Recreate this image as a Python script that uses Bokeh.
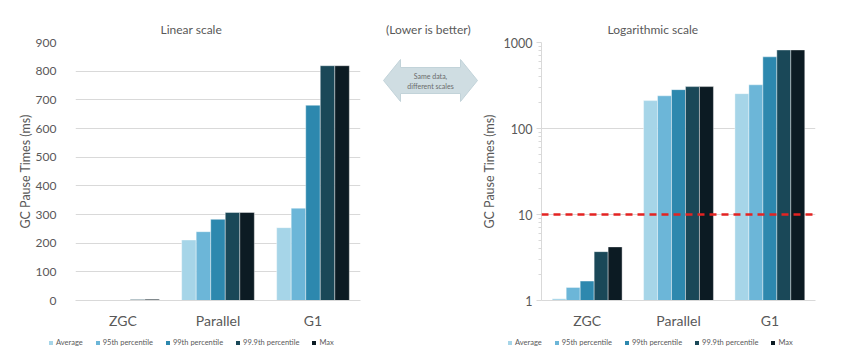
from bokeh.plotting import figure
from bokeh.layouts import row, column
from bokeh.models import (ColumnDataSource, FactorRange, Range1d, Legend, LegendItem,
                          Span, FixedTicker, PrintfTickFormatter, Label)
from bokeh.transform import dodge
from bokeh.embed import file_html
from bokeh.resources import INLINE

collectors = ["ZGC", "Parallel", "G1"]
series = ["Average", "95th percentile", "99th percentile", "99.9th percentile", "Max"]
average = [1.05, 211, 254]
p95 = [1.42, 240, 322]
p99 = [1.68, 283, 681]
p999 = [3.7, 307, 819]
pmax = [4.2, 307, 819]
colors = ["#a6d5e8", "#6cb6d8", "#2d88ae", "#1a4858", "#0c1b23"]
linear_ticks = [0, 100, 200, 300, 400, 500, 600, 700, 800, 900]
log_ticks = [1, 10, 100, 1000]
log_minor = [2, 3, 4, 5, 6, 7, 8, 9, 20, 30, 40, 50, 60, 70, 80, 90,
             200, 300, 400, 500, 600, 700, 800, 900]
threshold = 10

FONT = "Lato"
TXT = "#595959"
GRID = "#d9d9d9"

cols = ["average", "p95", "p99", "p999", "pmax"]
src = ColumnDataSource(dict(x=collectors, average=average, p95=p95, p99=p99,
                            p999=p999, pmax=pmax, base_lin=[0, 0, 0], base_log=[1, 1, 1]))

BW = 0.153
offsets = [-2 * BW, -BW, 0, BW, 2 * BW]
H = 331
LH = 18
TOP = 42
BOT = 302


def no_align(p):
    if "frame_align" in p.properties():
        p.frame_align = False


def style_title(t, standoff, size="12px"):
    t.standoff = standoff
    t.vertical_align = "middle"
    t.text_font = FONT
    t.text_font_size = size
    t.text_font_style = "normal"
    t.text_color = TXT


def make_chart(log, width, bl, br, title, title_off, title_standoff, lab_standoff):
    kw = dict(y_axis_type="log", y_range=Range1d(1, 1000)) if log else dict(y_range=Range1d(0, 900))
    p = figure(x_range=FactorRange(*collectors), width=width, height=H,
               output_backend="svg", toolbar_location=None,
               min_border_left=bl, min_border_right=br, min_border_top=TOP,
               min_border_bottom=H - BOT, **kw)
    no_align(p)
    p.title.text = title
    p.title.align = "left"
    p.title.offset = title_off
    style_title(p.title, title_standoff)
    p.outline_line_color = None
    for c, col, off in zip(cols, colors, offsets):
        p.vbar(x=dodge("x", off, range=p.x_range), top=c,
               bottom="base_log" if log else "base_lin", width=BW, source=src,
               fill_color=col, line_color="white", line_width=0.4)
    p.xgrid.grid_line_color = None
    p.ygrid.grid_line_color = GRID
    p.ygrid.grid_line_width = 1
    if log:
        p.yaxis.ticker = FixedTicker(ticks=log_ticks, minor_ticks=log_minor)
        p.yaxis.formatter = PrintfTickFormatter(format="%d")
        p.yaxis.axis_line_color = GRID
        p.yaxis.major_tick_line_color = GRID
        p.yaxis.minor_tick_line_color = GRID
        p.yaxis.major_tick_out = 5
        p.yaxis.major_tick_in = 0
        p.yaxis.minor_tick_out = 3
        p.yaxis.minor_tick_in = 0
        p.yaxis.major_label_standoff = 4
        p.ygrid.minor_grid_line_color = None
        p.yaxis.major_label_text_font_size = "12.5px"
    else:
        p.yaxis.ticker = FixedTicker(ticks=linear_ticks)
        p.yaxis.axis_line_color = None
        p.yaxis.major_tick_line_color = None
        p.yaxis.minor_tick_line_color = None
        p.yaxis.major_label_standoff = 13
        p.yaxis.major_label_text_font_size = "12px"
    p.yaxis.axis_label = "GC Pause Times (ms)"
    p.yaxis.axis_label_text_font = FONT
    p.yaxis.axis_label_text_font_size = "12.5px"
    p.yaxis.axis_label_text_font_style = "normal"
    p.yaxis.axis_label_text_color = TXT
    p.yaxis.axis_label_standoff = lab_standoff
    p.yaxis.major_label_text_font = FONT
    p.yaxis.major_label_text_color = TXT
    p.xaxis.axis_line_color = GRID
    p.xaxis.major_tick_line_color = None
    p.xaxis.minor_tick_line_color = None
    p.xaxis.major_label_text_font = FONT
    p.xaxis.major_label_text_font_size = "14px"
    p.xaxis.major_label_text_color = TXT
    p.xaxis.major_label_standoff = 5
    return p


def make_legend(width, leg_x):
    # legend-only strip: zero-height bars from the data source, outside the visible y range
    lf = figure(width=width, height=LH, x_range=FactorRange(*collectors), y_range=Range1d(10, 20),
                output_backend="svg", toolbar_location=None,
                min_border_left=0, min_border_right=0, min_border_top=0, min_border_bottom=0)
    no_align(lf)
    lf.axis.visible = False
    lf.grid.grid_line_color = None
    lf.outline_line_color = None
    items = []
    for s, col in zip(series, colors):
        r = lf.vbar(x="x", top="base_lin", bottom="base_lin", width=BW, source=src,
                    fill_color=col, line_color=None)
        items.append(LegendItem(label=s, renderers=[r]))
    leg = Legend(items=items, orientation="horizontal", location=(leg_x, 2),
                 label_text_font=FONT, label_text_font_size="7.5px", label_text_color=TXT,
                 glyph_width=5, glyph_height=5, label_standoff=3, spacing=12,
                 label_height=9, padding=0, margin=0, border_line_color=None,
                 background_fill_alpha=0)
    lf.add_layout(leg, "center")
    return lf


left = make_chart(False, 378, 75, 18, "Linear scale", 85, 10, 0)
right = make_chart(True, 347, 57, 10, "Logarithmic scale", 66, 10, 4)
right.add_layout(Span(location=threshold, dimension="width", line_color="#e32322",
                      line_dash="7 5", line_width=2.5))

# middle decorative panel (page coordinates, y negated)
mid = figure(width=100, height=H, x_range=Range1d(378, 478), y_range=Range1d(-BOT, -TOP),
             output_backend="svg", toolbar_location=None,
             min_border_left=0, min_border_right=0, min_border_top=TOP,
             min_border_bottom=H - BOT)
no_align(mid)
mid.title.text = "(Lower is better)"
mid.title.align = "center"
style_title(mid.title, 10)
mid.axis.visible = False
mid.grid.grid_line_color = None
mid.outline_line_color = None
mid.patch([383, 400, 400, 460, 460, 477, 460, 460, 400, 400],
          [-80, -59, -67, -67, -59, -80, -101, -93, -93, -101],
          fill_color="#cfdde2", line_color="#c2d3d9", line_width=1)
mid.add_layout(Label(x=430, y=-75, text="Same data,", text_font=FONT, text_font_size="7px",
                     text_color="#6b6b6b", text_align="center", text_baseline="middle"))
mid.add_layout(Label(x=430, y=-85, text="different scales", text_font=FONT, text_font_size="7px",
                     text_color="#6b6b6b", text_align="center", text_baseline="middle"))

leg_left = make_legend(478, 48)
leg_right = make_legend(347, 507 - 478)

layout = column(row(left, mid, right), row(leg_left, leg_right))
open("out.html", "w").write(file_html(layout, INLINE))
